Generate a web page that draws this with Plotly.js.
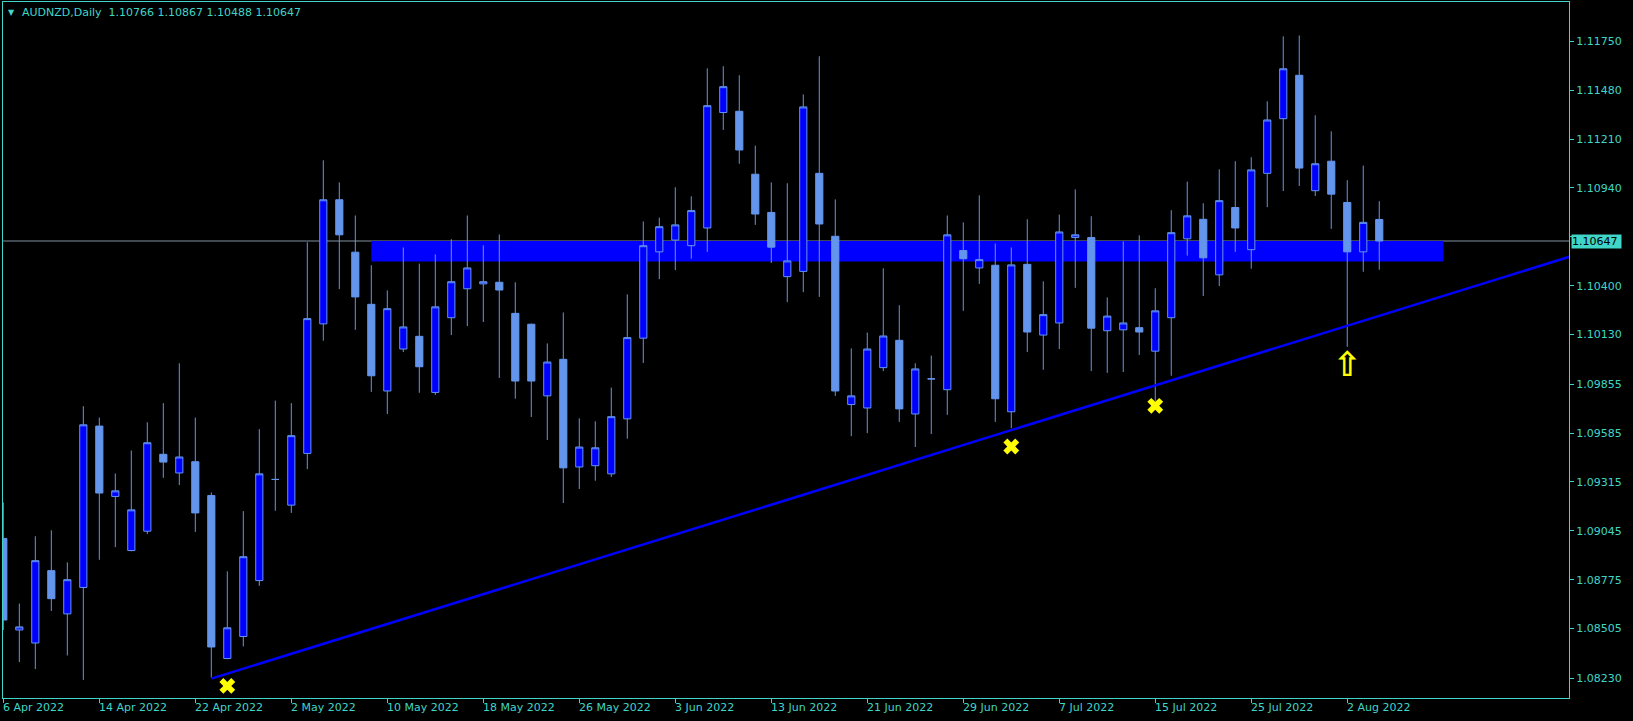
<!DOCTYPE html>
<html>
<head>
<meta charset="utf-8">
<script src="https://cdn.plot.ly/plotly-3.0.1.min.js"></script>
<style>
  html, body { margin: 0; padding: 0; background: #000; }
  #chart { width: 1633px; height: 721px; }
</style>
</head>
<body>
<div id="chart"></div>
<script>
// ---- AUDNZD Daily, 6 Apr 2022 .. 4 Aug 2022 (one entry per trading day) ----
const open = [
  1.09003, 1.08497, 1.08425, 1.08825, 1.08586, 1.08732, 1.09624, 1.09235, 1.08936, 1.09043,
  1.09468, 1.09365, 1.09427, 1.09240, 1.08339, 1.08461, 1.08770, 1.09329, 1.09187, 1.09473,
  1.10189, 1.10875, 1.10585, 1.10297, 1.09818, 1.10050, 1.10120, 1.09810, 1.10223, 1.10383,
  1.10410, 1.10419, 1.10247, 1.10187, 1.09791, 1.09993, 1.09398, 1.09405, 1.09360, 1.09664,
  1.10110, 1.10587, 1.10652, 1.10621, 1.10719, 1.11357, 1.11364, 1.11016, 1.10805, 1.10450,
  1.10479, 1.11021, 1.10673, 1.09743, 1.09724, 1.09947, 1.10098, 1.09691, 1.09885, 1.09825,
  1.10594, 1.10498, 1.10513, 1.09703, 1.10518, 1.10127, 1.10194, 1.10666, 1.10666, 1.10151,
  1.10156, 1.10168, 1.10038, 1.10223, 1.10659, 1.10767, 1.10460, 1.10832, 1.10599, 1.11021,
  1.11323, 1.11563, 1.10925, 1.11088, 1.10860, 1.10587, 1.10766
];
const high = [
  1.09202, 1.08643, 1.09015, 1.09048, 1.08871, 1.09734, 1.09671, 1.09362, 1.09489, 1.09645,
  1.09751, 1.09971, 1.09671, 1.09257, 1.08821, 1.09154, 1.09607, 1.09765, 1.09751, 1.10640,
  1.11093, 1.10971, 1.10788, 1.10513, 1.10374, 1.10611, 1.10522, 1.10573, 1.10657, 1.10788,
  1.10623, 1.10683, 1.10419, 1.10190, 1.10081, 1.10252, 1.09667, 1.09650, 1.09837, 1.10352,
  1.10755, 1.10776, 1.10944, 1.10894, 1.11601, 1.11613, 1.11563, 1.11174, 1.10971, 1.10966,
  1.11457, 1.11668, 1.10877, 1.10053, 1.10141, 1.10496, 1.10292, 1.09971, 1.10014, 1.10788,
  1.10750, 1.10899, 1.10633, 1.10611, 1.10767, 1.10424, 1.10793, 1.10932, 1.10784, 1.10335,
  1.10645, 1.10678, 1.10386, 1.10817, 1.10975, 1.10856, 1.11043, 1.11088, 1.11110, 1.11419,
  1.11778, 1.11783, 1.11342, 1.11253, 1.10983, 1.11064, 1.10867
];
const low = [
  1.08497, 1.08320, 1.08281, 1.08602, 1.08356, 1.08221, 1.08885, 1.08955, 1.08932, 1.09027,
  1.09338, 1.09298, 1.09039, 1.08233, 1.08336, 1.08406, 1.08741, 1.09156, 1.09144, 1.09386,
  1.10096, 1.10381, 1.10156, 1.09813, 1.09691, 1.10033, 1.09808, 1.09796, 1.10127, 1.10177,
  1.10199, 1.09890, 1.09775, 1.09674, 1.09547, 1.09199, 1.09276, 1.09322, 1.09343, 1.09554,
  1.09973, 1.10436, 1.10486, 1.10549, 1.10587, 1.11261, 1.11074, 1.10736, 1.10525, 1.10309,
  1.10364, 1.10338, 1.09791, 1.09568, 1.09585, 1.09928, 1.09647, 1.09508, 1.09580, 1.09686,
  1.10261, 1.10410, 1.09647, 1.09612, 1.10033, 1.09935, 1.10050, 1.10388, 1.09928, 1.09918,
  1.09923, 1.10017, 1.09763, 1.09902, 1.10566, 1.10343, 1.10398, 1.10587, 1.10494, 1.10834,
  1.10923, 1.10951, 1.10896, 1.10714, 1.10062, 1.10477, 1.10488
];
const close = [
  1.08552, 1.08514, 1.08880, 1.08670, 1.08775, 1.09631, 1.09254, 1.09266, 1.09161, 1.09532,
  1.09425, 1.09453, 1.09144, 1.08403, 1.08509, 1.08902, 1.09360, 1.09329, 1.09571, 1.10218,
  1.10875, 1.10681, 1.10338, 1.09902, 1.10273, 1.10172, 1.09952, 1.10283, 1.10422, 1.10498,
  1.10422, 1.10376, 1.09873, 1.09873, 1.09978, 1.09393, 1.09508, 1.09504, 1.09676, 1.10113,
  1.10621, 1.10726, 1.10736, 1.10815, 1.11395, 1.11500, 1.11150, 1.10796, 1.10613, 1.10537,
  1.11388, 1.10741, 1.09818, 1.09791, 1.10050, 1.10122, 1.09719, 1.09940, 1.09885, 1.10681,
  1.10549, 1.10544, 1.09775, 1.10515, 1.10144, 1.10240, 1.10697, 1.10681, 1.10165, 1.10232,
  1.10194, 1.10144, 1.10261, 1.10693, 1.10786, 1.10554, 1.10870, 1.10719, 1.11040, 1.11316,
  1.11599, 1.11050, 1.11074, 1.10906, 1.10587, 1.10750, 1.10647
];

// x-axis date labels (every 6th trading day) and the bar index they sit on
const tickIdx    = [0, 6, 12, 18, 24, 30, 36, 42, 48, 54, 60, 66, 72, 78, 84];
const tickLabels = ['6 Apr 2022', '14 Apr 2022', '22 Apr 2022', '2 May 2022', '10 May 2022',
                    '18 May 2022', '26 May 2022', '3 Jun 2022', '13 Jun 2022', '21 Jun 2022',
                    '29 Jun 2022', '7 Jul 2022', '15 Jul 2022', '25 Jul 2022', '2 Aug 2022'];
// price scale labels (1.10670 sits under the current-price tag, so its text is hidden)
const priceTicks = [1.11750, 1.11480, 1.11210, 1.10940, 1.10670, 1.10400, 1.10130,
                    1.09855, 1.09585, 1.09315, 1.09045, 1.08775, 1.08505, 1.08230];
const hiddenTick = 1.10670;

// drawn objects
const trendX = [13, 98];             const trendY = [1.08228, 1.10563];
const zoneX  = [23, 90];             const zoneY  = [1.10533, 1.10647];
const crossX = [14, 63, 72];         const crossY = [1.08188, 1.09511, 1.09736];
const arrowX = [84];                 const arrowY = [1.09950];

const symbolName = 'AUDNZD,Daily';
const n = close.length;
const lastPrice = close[n - 1];
const xIdx = close.map((_, i) => i);

const FG = '#3FD6C8';
const FONT = 'DejaVu Sans';

const traces = [
  {
    type: 'candlestick',
    x: xIdx, open: open, high: high, low: low, close: close,
    increasing: { fillcolor: '#0000FF', line: { color: '#6495ED', width: 1 } },
    decreasing: { fillcolor: '#6495ED', line: { color: '#6495ED', width: 1 } },
    whiskerwidth: 0,
    hoverinfo: 'none',
    showlegend: false
  },
  {
    type: 'scatter', mode: 'lines',
    x: trendX, y: trendY,
    line: { color: '#0000FF', width: 2.5 },
    hoverinfo: 'none', showlegend: false
  },
  {
    type: 'scatter', mode: 'markers',
    x: crossX, y: crossY,
    marker: { symbol: 'x', size: 14, color: '#FFFF00', line: { width: 0 } },
    hoverinfo: 'none', showlegend: false
  },
  {
    type: 'scatter', mode: 'text',
    x: arrowX, y: arrowY,
    text: ['\u21E7'],
    textposition: 'middle center',
    textfont: { family: FONT, size: 34, color: '#FFFF00', weight: 'bold' },
    hoverinfo: 'none', showlegend: false
  }
];

const annotations = tickIdx.map((t, k) => ({
  x: t, xref: 'x', y: 0, yref: 'paper',
  xanchor: 'left', yanchor: 'top', xshift: -2, yshift: -1,
  text: tickLabels[k], showarrow: false,
  font: { family: FONT, size: 11, color: FG }
}));

annotations.push({
  x: 0, xref: 'paper', y: 1, yref: 'paper',
  xanchor: 'left', yanchor: 'middle', xshift: 3, yshift: -10,
  text: '\u25BC', showarrow: false,
  font: { family: FONT, size: 8, color: FG }
});
annotations.push({
  x: 0, xref: 'paper', y: 1, yref: 'paper',
  xanchor: 'left', yanchor: 'middle', xshift: 17, yshift: -10,
  text: symbolName + '\u00A0\u00A0' + [open[n-1], high[n-1], low[n-1], close[n-1]].map(v => v.toFixed(5)).join(' '),
  showarrow: false,
  font: { family: FONT, size: 11, color: FG }
});
annotations.push({
  x: 1, xref: 'paper', y: lastPrice, yref: 'y',
  xanchor: 'left', yanchor: 'middle', xshift: 2,
  text: lastPrice.toFixed(5) + '\u00A0', showarrow: false,
  bgcolor: FG, borderpad: 0,
  font: { family: FONT, size: 11, color: '#000000' }
});

const layout = {
  width: 1633, height: 721,
  margin: { l: 3, r: 64, t: 2, b: 23 },
  paper_bgcolor: '#000000',
  plot_bgcolor: '#000000',
  boxgap: 0.36,
  showlegend: false,
  font: { family: FONT, size: 11, color: FG },
  xaxis: {
    range: [-0.02, 97.86],
    rangeslider: { visible: false },
    showgrid: false, zeroline: false,
    showline: true, mirror: true, linecolor: FG, linewidth: 1,
    tickmode: 'array', tickvals: tickIdx,
    ticks: 'outside', ticklen: 4, tickcolor: FG, tickwidth: 1,
    showticklabels: false,
    fixedrange: true
  },
  yaxis: {
    side: 'right',
    range: [1.08121, 1.11968],
    showgrid: false, zeroline: false,
    showline: true, mirror: true, linecolor: FG, linewidth: 1,
    tickmode: 'array', tickvals: priceTicks,
    ticktext: priceTicks.map(v => v === hiddenTick ? '' : v.toFixed(5)),
    ticks: 'outside', ticklen: 4, tickcolor: FG, tickwidth: 1,
    tickfont: { family: FONT, size: 11, color: FG },
    fixedrange: true
  },
  shapes: [
    {
      type: 'rect', xref: 'x', yref: 'y', layer: 'below',
      x0: zoneX[0], x1: zoneX[1], y0: zoneY[0], y1: zoneY[1],
      fillcolor: '#0000FF', line: { width: 0 }
    },
    {
      type: 'line', xref: 'paper', yref: 'y', layer: 'below',
      x0: 0, x1: 1, y0: lastPrice, y1: lastPrice,
      line: { color: '#8090A0', width: 1 }
    }
  ],
  annotations: annotations
};

Plotly.newPlot('chart', traces, layout, { staticPlot: true, displayModeBar: false });
</script>
</body>
</html>
